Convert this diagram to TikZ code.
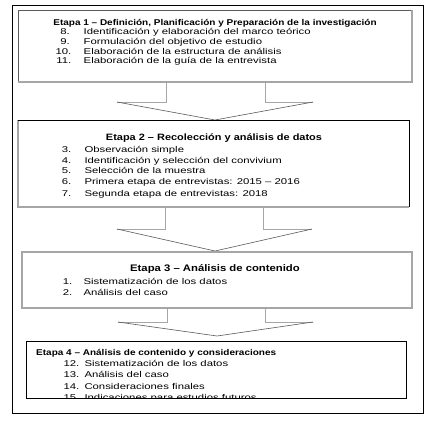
\documentclass[tikz,border=0pt]{standalone}
\usepackage{fontspec}
\setmainfont{Liberation Sans}[FakeStretch=1.35,BoldFeatures={FakeStretch=1.19}]
\definecolor{shade}{HTML}{A6A6A6}
\definecolor{edge}{HTML}{5A5A5A}
\begin{document}
\begin{tikzpicture}[x=1pt,y=-1pt,
  txt/.style={font=\fontsize{8.4}{10}\selectfont, inner sep=0pt},
  ttl/.style={font=\fontsize{8.4}{10}\selectfont\bfseries, inner sep=0pt},
  bigttl/.style={font=\fontsize{9.2}{11}\selectfont\bfseries, inner sep=0pt},
  num/.style={txt, anchor=base west},
  numr/.style={txt, anchor=base east},
  item/.style={txt, anchor=base west},
  shadeline/.style={draw=shade, line width=1.3pt},
  thinline/.style={draw=edge, line width=0.6pt},
  blackline/.style={draw=black, line width=0.8pt},
  wing/.style={draw=edge, line width=0.6pt}]
\useasboundingbox (0,0) rectangle (436,421);
\fill[white] (0,0) rectangle (436,421);

% outer frame
\coordinate (oTL) at (12,5);
\coordinate (oBR) at (423,413);
\draw[black, line width=0.9pt] (oTL) rectangle (oBR);

% box 1
\coordinate (b1TL) at (18,10);
\coordinate (b1TR) at (412,10);
\coordinate (b1BR) at (412,82);
\coordinate (b1BL) at (18,82);
\draw[thinline] (b1BL) -- (b1TL) -- (b1TR);
\draw[shadeline] (b1TR) -- (b1BR) -- (b1BL);

% arrow 1
\coordinate (a1l) at (166,82);
\coordinate (a1r) at (265,82);
\coordinate (a1lb) at (166,102);
\coordinate (a1rb) at (265,102);
\coordinate (a1wl) at (117,102);
\coordinate (a1wr) at (313,102);
\coordinate (a1tip) at (215,120);
\draw[shadeline, line width=1pt] (a1l) -- (a1lb) -- (a1wl);
\draw[shadeline, line width=1pt] (a1r) -- (a1rb) -- (a1wr);
\draw[wing] (a1wl) -- (a1tip) -- (a1wr);

% box 2
\coordinate (b2TL) at (18,120);
\coordinate (b2TR) at (409,120);
\coordinate (b2BR) at (409,207);
\coordinate (b2BL) at (18,207);
\draw[shadeline] (b2TL) -- (b2BL) -- (b2BR);
\draw[blackline] (b2TL) -- (b2TR) -- (b2BR);

% arrow 2
\coordinate (a2l) at (165,207);
\coordinate (a2r) at (263,207);
\coordinate (a2lb) at (165,229);
\coordinate (a2rb) at (263,229);
\coordinate (a2wl) at (117,229);
\coordinate (a2wr) at (312,229);
\coordinate (a2tip) at (215,251);
\draw[shadeline, line width=1pt] (a2l) -- (a2lb) -- (a2wl);
\draw[shadeline, line width=1pt] (a2r) -- (a2rb) -- (a2wr);
\draw[wing] (a2wl) -- (a2tip) -- (a2wr);

% box 3
\coordinate (b3TL) at (22,252);
\coordinate (b3BR) at (412,308);
\draw[shadeline, line width=1.1pt] (b3TL) rectangle (b3BR);

% arrow 3
\coordinate (a3l) at (167,308);
\coordinate (a3r) at (265,308);
\coordinate (a3lb) at (167,322);
\coordinate (a3rb) at (265,322);
\coordinate (a3wl) at (118,322);
\coordinate (a3wr) at (313,322);
\coordinate (a3tip) at (217,336);
\draw[shadeline, line width=1pt] (a3l) -- (a3lb) -- (a3wl);
\draw[shadeline, line width=1pt] (a3r) -- (a3rb) -- (a3wr);
\draw[wing] (a3wl) -- (a3tip) -- (a3wr);

% box 4
\coordinate (b4TL) at (26,341.5);
\coordinate (b4BR) at (406,398);
\draw[blackline] (b4TL) rectangle (b4BR);

% texts box 1
\node[ttl, anchor=base] (t1) at (215,25.3) {Etapa 1 – Definición, Planificación y Preparación de la investigación};
\node[numr] (n8) at (70,34.7) {8.};
\node[item] (i8) at (83.5,34.7) {Identificación y elaboración del marco teórico};
\node[numr] (n9) at (70,44.7) {9.};
\node[item] (i9) at (83.5,44.7) {Formulación del objetivo de estudio};
\node[numr] (n10) at (71.5,54) {10.};
\node[item] (i10) at (83.5,54) {Elaboración de la estructura de análisis};
\node[numr] (n11) at (71.5,63.7) {11.};
\node[item] (i11) at (83.5,63.7) {Elaboración de la guía de la entrevista};

% texts box 2
\node[bigttl, anchor=base] (t2) at (214,140.3) {Etapa 2 – Recolección y análisis de datos};
\node[num] (n3) at (61.7,152) {3.};
\node[item] (i3) at (84.3,152) {Observación simple};
\node[num] (n4) at (61.7,163) {4.};
\node[item] (i4) at (84.3,163) {Identificación y selección del convivium};
\node[num] (n5) at (61.7,173.7) {5.};
\node[item] (i5) at (84.3,173.7) {Selección de la muestra};
\node[num] (n6) at (61.7,184.7) {6.};
\node[item] (i6) at (84.3,184.7) {Primera etapa de entrevistas: 2015 – 2016};
\node[num] (n7) at (61.7,196.3) {7.};
\node[item] (i7) at (84.3,196.3) {Segunda etapa de entrevistas: 2018};

% texts box 3
\node[bigttl, font=\fontsize{9.5}{11}\selectfont\bfseries, anchor=base] (t3) at (215,271) {Etapa 3 – Análisis de contenido};
\node[num] (n1) at (62.7,284) {1.};
\node[item] (i1) at (83.3,284) {Sistematización de los datos};
\node[num] (n2) at (62.7,295) {2.};
\node[item] (i2) at (83.3,295) {Análisis del caso};

% texts box 4
\node[ttl, anchor=base west] (t4) at (36,355) {Etapa 4 – Análisis de contenido y consideraciones};
\node[num] (n12) at (63.3,366) {12.};
\node[item] (i12) at (84.3,366) {Sistematización de los datos};
\node[num] (n13) at (63.3,377.3) {13.};
\node[item] (i13) at (84.3,377.3) {Análisis del caso};
\node[num] (n14) at (63.3,389.3) {14.};
\node[item] (i14) at (84.3,389.3) {Consideraciones finales};
\begin{scope}
\clip (26,341.5) rectangle (406,397.6);
\node[num] (n15) at (63.3,400.8) {15.};
\node[item] (i15) at (84.3,400.8) {Indicaciones para estudios futuros};
\end{scope}
\end{tikzpicture}
\end{document}
